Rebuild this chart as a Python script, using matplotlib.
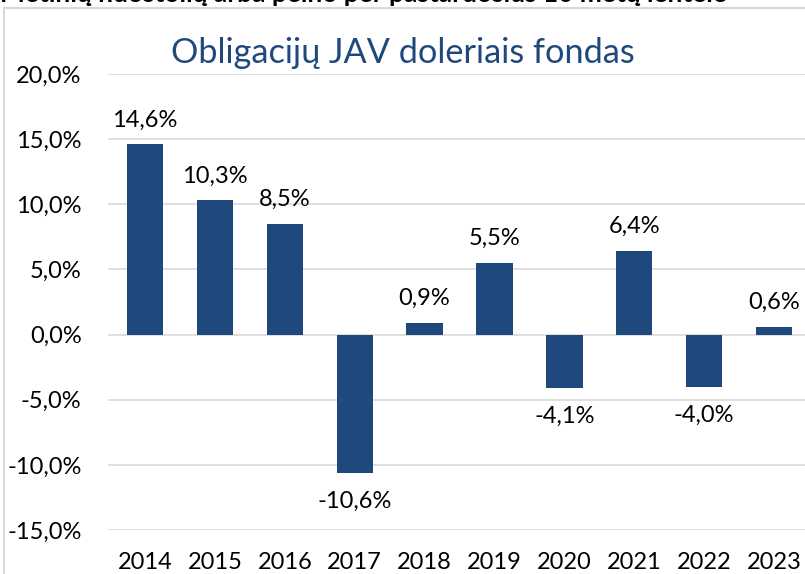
import numpy as np
import matplotlib.pyplot as plt
from matplotlib.lines import Line2D

years = ['2014', '2015', '2016', '2017', '2018', '2019', '2020', '2021', '2022', '2023']
returns = [14.6, 10.3, 8.5, -10.6, 0.9, 5.5, -4.1, 6.4, -4.0, 0.6]
y_ticks = [-15, -10, -5, 0, 5, 10, 15, 20]

title = 'Obligacijų JAV doleriais fondas'
header = 'Metinių nuostolių arba pelno per pastaruosius 10 metų lentelė'

bar_color = '#1F497D'
plt.rcParams['font.family'] = ['Lato', 'DejaVu Sans']

fig = plt.figure(figsize=(8.05, 5.74), dpi=100)
ax = fig.add_axes([108 / 805, 1 - 530 / 574, (809 - 108) / 805, (530 - 74) / 574])

x = np.arange(len(years))
ax.bar(x, returns, width=0.52, color=bar_color, zorder=3)

ax.set_xlim(-0.53, 9.5)
ax.set_ylim(-15, 20)
ax.set_yticks(y_ticks)
ax.set_yticklabels([f'{v:.1f}%'.replace('.', ',') for v in y_ticks])
ax.set_xticks(x)
ax.set_xticklabels(years)
ax.grid(axis='y', color='#D9D9D9', linewidth=1.2, zorder=0)
for s in ax.spines.values():
    s.set_visible(False)
ax.tick_params(axis='both', length=0, labelsize=17, colors='#000000')
ax.tick_params(axis='y', pad=19)
ax.tick_params(axis='x', pad=16)

for xi, v in zip(x, returns):
    lbl = f'{v:.1f}%'.replace('.', ',')
    if v >= 0:
        ax.annotate(lbl, (xi, v), xytext=(0, 10), textcoords='offset points',
                    ha='center', va='bottom', fontsize=17)
    else:
        ax.annotate(lbl, (xi, v), xytext=(0, -13), textcoords='offset points',
                    ha='center', va='top', fontsize=17)

fig.text(0.5, 1 - 53 / 574, title, ha='center', va='center', fontsize=24.7, color=bar_color)

# chart border and cut-off header
fig.add_artist(Line2D([4 / 805, 4 / 805], [0, 1 - 8 / 574], transform=fig.transFigure,
                      color='#D9D9D9', linewidth=1.5))
fig.add_artist(Line2D([4 / 805, 1], [1 - 8 / 574, 1 - 8 / 574], transform=fig.transFigure,
                      color='#D9D9D9', linewidth=1.5))
fig.text(0, 1 - 2 / 574, header, ha='left', va='baseline', fontsize=19, fontweight='bold')

fig.savefig('out.png', dpi=100)
